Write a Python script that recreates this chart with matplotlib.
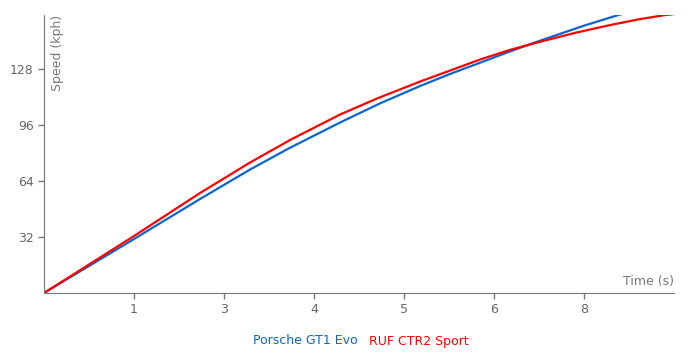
import matplotlib
matplotlib.use("Agg")
import matplotlib.pyplot as plt

# time (s) / speed (kph)
gt1_t = [0, 1.270, 2.201, 2.907, 3.471, 4.177, 4.74, 5.306, 5.73, 6.152, 6.57,
         6.999, 7.620, 8.057, 8.269]
gt1_v = [0, 30.86, 53.71, 70.57, 83.0, 97.43, 108.35, 118.29, 125.2, 131.6, 138.0,
         144.2, 152.8, 158.3, 160.8]

ctr2_t = [0, 1.270, 2.201, 2.907, 3.471, 4.177, 4.7, 5.306, 6.152, 6.57, 6.999,
          7.5, 7.987, 8.4, 8.763, 8.890]
ctr2_v = [0, 32.57, 57.14, 74.57, 87.43, 102.00, 111.2, 120.86, 133.43, 138.9, 143.60,
          148.75, 153.14, 156.5, 158.86, 159.43]

x_ticks = [1.27, 2.54, 3.81, 5.08, 6.35, 7.62]
x_labels = ["1", "3", "4", "5", "6", "8"]
y_ticks = [32, 64, 96, 128]

blue = "#0a66cc"
red = "#ff0000"
grey = "#777777"

fig = plt.figure(figsize=(7, 3.6), dpi=100)
ax = fig.add_axes([44 / 700, 67 / 360, 630 / 700, 278 / 360])

ax.plot(gt1_t, gt1_v, color=blue, lw=1.6, solid_joinstyle="round")
ax.plot(ctr2_t, ctr2_v, color=red, lw=1.6, solid_joinstyle="round")

ax.set_xlim(0, 8.89)
ax.set_ylim(0, 158.9)
ax.set_xticks(x_ticks)
ax.set_xticklabels(x_labels)
ax.set_yticks(y_ticks)

for s in ["top", "right"]:
    ax.spines[s].set_visible(False)
for s in ["left", "bottom"]:
    ax.spines[s].set_color(grey)
ax.tick_params(colors=grey, labelcolor="#666666", labelsize=9, length=4, width=1)

ax.text(0.021, 1.0, "Speed (kph)", transform=ax.transAxes, rotation=90,
        ha="center", va="top", color="#777777", fontsize=9)
ax.text(1.0, 0.018, "Time (s)", transform=ax.transAxes,
        ha="right", va="bottom", color="#777777", fontsize=9)

fig.text(305 / 700, 1 - 341 / 360, "Porsche GT1 Evo", color=blue, fontsize=9,
         ha="center", va="center")
fig.text(419 / 700, 1 - 341 / 360, "RUF CTR2 Sport", color=red, fontsize=9,
         ha="center", va="center")

fig.savefig("out.png", dpi=100)
